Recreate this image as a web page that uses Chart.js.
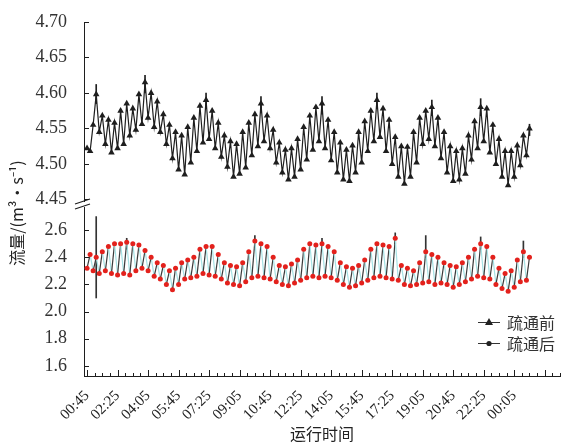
<!DOCTYPE html>
<html>
<head>
<meta charset="utf-8">
<style>
  html, body { margin: 0; padding: 0; background: #fff; }
  #wrap { width: 564px; height: 446px; }
</style>
<script src="https://cdn.jsdelivr.net/npm/chart.js@4.4.1/dist/chart.umd.min.js"></script>
</head>
<body>
<div id="wrap"><canvas id="flow" width="564" height="446"></canvas></div>
<script>
/* ── Data ─────────────────────────────────────────────── */
const STEP_MIN = 10; // one sample every 10 minutes, starting 00:45

const timeLabels = ['00:45', '02:25', '04:05', '05:45', '07:25', '09:05', '10:45',
  '12:25', '14:05', '15:45', '17:25', '19:05', '20:45', '22:25', '00:05'];

const seriesNames = ['疏通前', '疏通后'];

// before dredging (upper panel)
const before = [
  4.522, 4.518, 4.555, 4.598, 4.545, 4.568, 4.528, 4.562, 4.516, 4.558,
  4.522, 4.575, 4.528, 4.585, 4.540, 4.578, 4.548, 4.598, 4.556, 4.615,
  4.565, 4.600, 4.552, 4.588, 4.545, 4.570, 4.528, 4.555, 4.508, 4.545,
  4.492, 4.540, 4.485, 4.552, 4.502, 4.565, 4.518, 4.582, 4.530, 4.590,
  4.535, 4.575, 4.522, 4.558, 4.510, 4.540, 4.496, 4.532, 4.482, 4.528,
  4.486, 4.545, 4.495, 4.558, 4.512, 4.570, 4.525, 4.585, 4.532, 4.568,
  4.522, 4.548, 4.502, 4.530, 4.488, 4.520, 4.478, 4.522, 4.482, 4.535,
  4.492, 4.552, 4.506, 4.568, 4.520, 4.580, 4.532, 4.585, 4.522, 4.562,
  4.505, 4.545, 4.488, 4.530, 4.478, 4.520, 4.476, 4.526, 4.488, 4.545,
  4.502, 4.560, 4.518, 4.575, 4.532, 4.590, 4.538, 4.578, 4.518, 4.562,
  4.500, 4.538, 4.482, 4.525, 4.472, 4.524, 4.482, 4.545, 4.502, 4.565,
  4.528, 4.575, 4.535, 4.580, 4.525, 4.565, 4.508, 4.545, 4.488, 4.525,
  4.476, 4.518, 4.478, 4.522, 4.486, 4.540, 4.506, 4.560, 4.522, 4.580,
  4.532, 4.578, 4.516, 4.555, 4.500, 4.535, 4.482, 4.518, 4.470, 4.518,
  4.482, 4.526, 4.498, 4.540, 4.512, 4.550,
];

// after dredging (lower panel)
const after = [
  2.32, 2.42, 2.30, 2.40, 2.28, 2.44, 2.30, 2.48, 2.28, 2.50,
  2.27, 2.50, 2.28, 2.51, 2.27, 2.50, 2.30, 2.49, 2.32, 2.45,
  2.30, 2.40, 2.26, 2.36, 2.24, 2.34, 2.20, 2.30, 2.16, 2.32,
  2.20, 2.36, 2.24, 2.38, 2.25, 2.40, 2.26, 2.46, 2.28, 2.48,
  2.27, 2.48, 2.26, 2.42, 2.24, 2.36, 2.21, 2.34, 2.20, 2.33,
  2.19, 2.36, 2.22, 2.44, 2.25, 2.52, 2.26, 2.50, 2.25, 2.48,
  2.24, 2.40, 2.22, 2.34, 2.20, 2.33, 2.19, 2.35, 2.21, 2.38,
  2.23, 2.46, 2.25, 2.50, 2.26, 2.49, 2.25, 2.50, 2.26, 2.48,
  2.25, 2.44, 2.23, 2.36, 2.20, 2.33, 2.18, 2.32, 2.19, 2.34,
  2.21, 2.38, 2.23, 2.46, 2.25, 2.50, 2.26, 2.49, 2.25, 2.48,
  2.24, 2.54, 2.23, 2.34, 2.20, 2.32, 2.19, 2.30, 2.20, 2.36,
  2.21, 2.44, 2.22, 2.42, 2.20, 2.40, 2.21, 2.36, 2.20, 2.34,
  2.18, 2.33, 2.20, 2.36, 2.22, 2.40, 2.24, 2.46, 2.26, 2.50,
  2.25, 2.48, 2.24, 2.40, 2.20, 2.32, 2.17, 2.28, 2.15, 2.30,
  2.18, 2.38, 2.22, 2.44, 2.23, 2.40,
];

// visible error bars: [sample index, low, high]
const beforeErr = [
  [3, 4.585, 4.612], [19, 4.600, 4.625], [39, 4.578, 4.600], [57, 4.572, 4.595],
  [77, 4.570, 4.595], [95, 4.578, 4.600], [113, 4.568, 4.590], [129, 4.568, 4.592],
  [145, 4.540, 4.556],
];
const afterErr = [
  [3, 2.10, 2.70], [13, 2.46, 2.54], [55, 2.48, 2.56], [77, 2.46, 2.54],
  [101, 2.50, 2.58], [111, 2.40, 2.56], [129, 2.46, 2.55], [143, 2.40, 2.52],
];

/* ── Helpers ──────────────────────────────────────────── */
const toPts = arr => arr.map((v, i) => ({ x: i * STEP_MIN, y: v }));
const toBars = arr => arr.map(([i, lo, hi]) => ({ x: i * STEP_MIN, y: [lo, hi] }));

const INK = '#1e1e1e';
const serif = '"Liberation Serif", "DejaVu Serif", serif';
const cjk = '"Noto Sans CJK SC", sans-serif';

/* ── Decorations: inward ticks, axis break, titles, legend ── */
const frame = {
  id: 'frame',
  afterDraw(chart) {
    const { ctx, chartArea: a, scales } = chart;
    const line = (x1, y1, x2, y2) => { ctx.beginPath(); ctx.moveTo(x1, y1); ctx.lineTo(x2, y2); ctx.stroke(); };
    ctx.save();
    ctx.strokeStyle = INK;
    ctx.lineWidth = 1;

    ['yUp', 'yLow'].forEach(id => {
      const s = scales[id];
      s.ticks.forEach(t => {
        const y = Math.round(s.getPixelForValue(t.value)) + 0.5;
        line(a.left, y, a.left + 5, y);
      });
    });
    const sx = scales.x;
    sx.ticks.forEach(t => {
      const x = Math.round(sx.getPixelForValue(t.value)) + 0.5;
      line(x, a.bottom, x, a.bottom - (t.value % 100 === 0 ? 6 : 3));
    });

    // axis break between the two panels
    const yb = scales.yUp.bottom;
    ctx.fillStyle = '#fff';
    ctx.fillRect(a.left - 2, yb - 1, 4, 5);
    ctx.lineWidth = 1.2;
    line(a.left - 9, yb + 1, a.left + 6, yb - 4);
    line(a.left - 9, yb + 6, a.left + 6, yb + 1);

    // y title
    ctx.fillStyle = '#222';
    ctx.font = '16px ' + cjk;
    ctx.textAlign = 'center';
    ctx.textBaseline = 'middle';
    ctx.save();
    ctx.translate(17, (a.top + a.bottom) / 2 + 14);
    ctx.rotate(-Math.PI / 2);
    ctx.fillText('流量/(m³·s⁻¹)', 0, 0);
    ctx.restore();

    // legend inside the plot, lower right
    const lx = a.right - 71;
    const rows = [a.bottom - 54, a.bottom - 33];
    ctx.textAlign = 'left';
    ctx.font = '16px ' + cjk;
    ctx.lineWidth = 1;
    rows.forEach((ly, k) => {
      ctx.strokeStyle = '#333';
      line(lx - 11, ly + 0.5, lx + 11, ly + 0.5);
      ctx.fillStyle = '#222';
      ctx.beginPath();
      if (k === 0) {
        ctx.moveTo(lx, ly - 4); ctx.lineTo(lx + 4, ly + 3); ctx.lineTo(lx - 4, ly + 3); ctx.closePath();
      } else {
        ctx.arc(lx, ly + 0.5, 2.6, 0, Math.PI * 2);
      }
      ctx.fill();
      ctx.fillStyle = '#333';
      ctx.fillText(seriesNames[k], lx + 18, ly + 1);
    });
    ctx.restore();
  },
};

/* ── Chart ────────────────────────────────────────────── */
new Chart(document.getElementById('flow').getContext('2d'), {
  type: 'line',
  data: {
    datasets: [
      {
        label: seriesNames[0],
        data: toPts(before),
        yAxisID: 'yUp',
        borderColor: INK,
        borderWidth: 1.2,
        pointStyle: 'triangle',
        pointRadius: 3.8,
        pointBackgroundColor: INK,
        pointBorderColor: INK,
        pointBorderWidth: 0,
        tension: 0,
      },
      {
        label: seriesNames[1],
        data: toPts(after),
        yAxisID: 'yLow',
        borderWidth: 1.2,
        borderColor: '#3a3a3a',
        segment: {
          borderColor: c => (c.p0DataIndex % 2 ? '#a6e2e4' : '#3a3a3a'),
        },
        pointStyle: 'circle',
        pointRadius: 2.5,
        pointBackgroundColor: '#e3211c',
        pointBorderColor: '#e3211c',
        pointBorderWidth: 0,
        tension: 0,
      },
      {
        type: 'bar',
        data: toBars(beforeErr),
        yAxisID: 'yUp',
        backgroundColor: INK,
        barThickness: 1,
        grouped: false,
      },
      {
        type: 'bar',
        data: toBars(afterErr),
        yAxisID: 'yLow',
        backgroundColor: '#333',
        barThickness: 1,
        grouped: false,
      },
    ],
  },
  options: {
    responsive: false,
    animation: false,
    devicePixelRatio: 1,
    layout: { padding: { top: 22, right: 4, left: 0, bottom: 0 } },
    plugins: { legend: { display: false }, tooltip: { enabled: false } },
    scales: {
      x: {
        type: 'linear',
        min: -10,
        max: 1550,
        offset: false,
        grid: { display: false },
        border: { color: INK, width: 1 },
        title: {
          display: true,
          text: '运行时间',
          color: '#222',
          font: { family: cjk, size: 16 },
          padding: { top: 0, bottom: 2 },
        },
        ticks: {
          stepSize: 25,
          includeBounds: false,
          autoSkip: false,
          minRotation: 45,
          maxRotation: 45,
          padding: 3,
          color: '#222',
          font: { family: serif, size: 15 },
          callback: v => (v >= 0 && v % 100 === 0 && timeLabels[v / 100]) || '',
        },
        afterFit: s => { s.height = 70; s.paddingRight = 0; },
      },
      yLow: {
        type: 'linear',
        position: 'left',
        stack: 'flow',
        stackWeight: 172,
        min: 1.525,
        max: 2.80,
        grid: { display: false },
        border: { color: INK, width: 1 },
        ticks: {
          stepSize: 0.2,
          includeBounds: false,
          autoSkip: false,
          padding: 9,
          color: '#333',
          font: { family: serif, size: 18 },
          callback: v => v.toFixed(1),
        },
        afterFit: s => { s.width = 84; },
      },
      yUp: {
        type: 'linear',
        position: 'left',
        stack: 'flow',
        stackWeight: 180,
        min: 4.445,
        max: 4.70,
        grid: { display: false },
        border: { color: INK, width: 1 },
        ticks: {
          stepSize: 0.05,
          includeBounds: false,
          autoSkip: false,
          padding: 9,
          color: '#333',
          font: { family: serif, size: 18 },
          callback: v => v.toFixed(2),
        },
        afterFit: s => { s.width = 84; },
      },
    },
  },
  plugins: [frame],
});
</script>
</body>
</html>
